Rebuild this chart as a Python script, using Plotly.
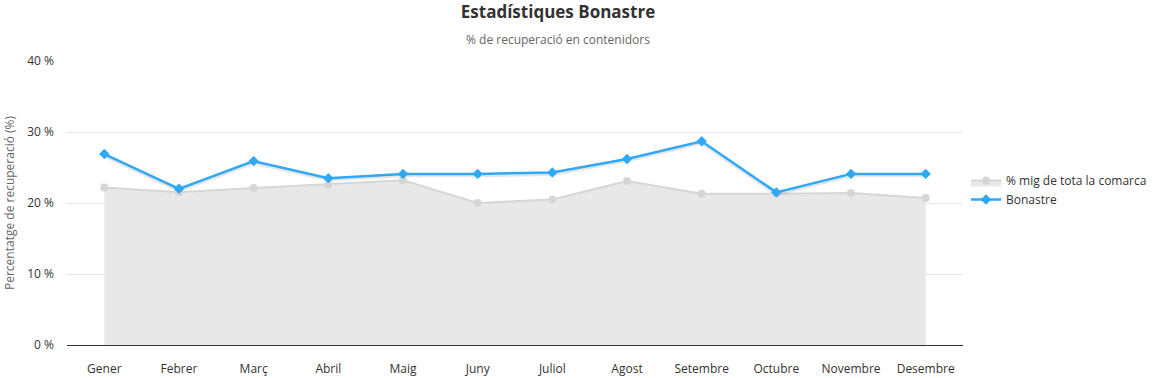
import plotly.graph_objects as go

months = ["Gener", "Febrer", "Març", "Abril", "Maig", "Juny", "Juliol",
          "Agost", "Setembre", "Octubre", "Novembre", "Desembre"]
comarca = [22.2, 21.5, 22.1, 22.6, 23.2, 20.0, 20.5, 23.1, 21.3, 21.3, 21.4, 20.7]
bonastre = [26.9, 22.0, 25.9, 23.5, 24.1, 24.1, 24.3, 26.2, 28.7, 21.5, 24.1, 24.1]
y_ticks = [0, 10, 20, 30, 40]
y_labels = [f"{v} %" for v in y_ticks]

FONT = "Open Sans, Noto Sans, sans-serif"
L, R, T, B = 67, 195, 61, 33
W, H = 1158, 378
PW = W - L - R
PH = H - T - B

fig = go.Figure()
fig.add_trace(go.Scatter(
    x=months, y=comarca, name="% mig de tota la comarca",
    mode="lines+markers", fill="tozeroy", fillcolor="rgba(232,232,232,1)",
    line=dict(color="#d6d6d6", width=2),
    marker=dict(symbol="circle", size=8, color="#d6d6d6"),
))
# soft shadow under the blue line
fig.add_trace(go.Scatter(
    x=months, y=[v - 0.2 for v in bonastre], mode="lines",
    line=dict(color="rgba(0,0,0,0.10)", width=4),
    showlegend=False, hoverinfo="skip",
))
fig.add_trace(go.Scatter(
    x=months, y=bonastre, name="Bonastre",
    mode="lines+markers",
    line=dict(color="#2ea8f7", width=2.5),
    marker=dict(symbol="diamond", size=8, color="#2ea8f7"),
))

cx = (558 - L) / PW
fig.update_layout(
    width=W, height=H,
    margin=dict(l=L, r=R, t=T, b=B, autoexpand=False),
    paper_bgcolor="white", plot_bgcolor="white",
    font=dict(family=FONT, size=12, color="#333333"),
    title=dict(text="<b>Estadístiques Bonastre</b>", xref="container", x=558 / W,
               xanchor="center", yref="container", y=1 - 12 / H, yanchor="middle",
               font=dict(family=FONT, size=17, color="#333333")),
    annotations=[
        dict(text="% de recuperació en contenidors", xref="paper", yref="paper",
             x=cx, y=1 + (T - 39) / PH, xanchor="center", yanchor="middle",
             showarrow=False, font=dict(family=FONT, size=12, color="#666666")),
        dict(text="Percentatge de recuperació (%)", xref="paper", yref="paper",
             x=(9 - L) / PW, y=0.5, xanchor="center", yanchor="middle", textangle=-90,
             showarrow=False, font=dict(family=FONT, size=12, color="#666666")),
    ],
    legend=dict(x=(966 - L) / PW, y=(H - B - 190) / PH, xanchor="left", yanchor="middle",
                font=dict(family=FONT, size=12, color="#333333"),
                tracegroupgap=0, itemwidth=30),
    showlegend=True,
)
fig.update_xaxes(
    type="category", range=[-0.5, 11.5], showgrid=False, automargin=False,
    showline=True, linecolor="#333333", linewidth=1,
    tickfont=dict(family=FONT, size=12, color="#333333"), ticks="",
    ticklabelstandoff=13,
)
fig.update_yaxes(
    range=[0, 40], tickvals=y_ticks, ticktext=y_labels, automargin=False,
    showgrid=True, gridcolor="#e6e6e6", gridwidth=1, zeroline=False,
    tickfont=dict(family=FONT, size=12, color="#333333"),
    ticklabelstandoff=12,
)

fig.write_html("out.html", config={"displayModeBar": False},
               post_script="document.body.style.margin='0';document.body.style.overflow='hidden';")
